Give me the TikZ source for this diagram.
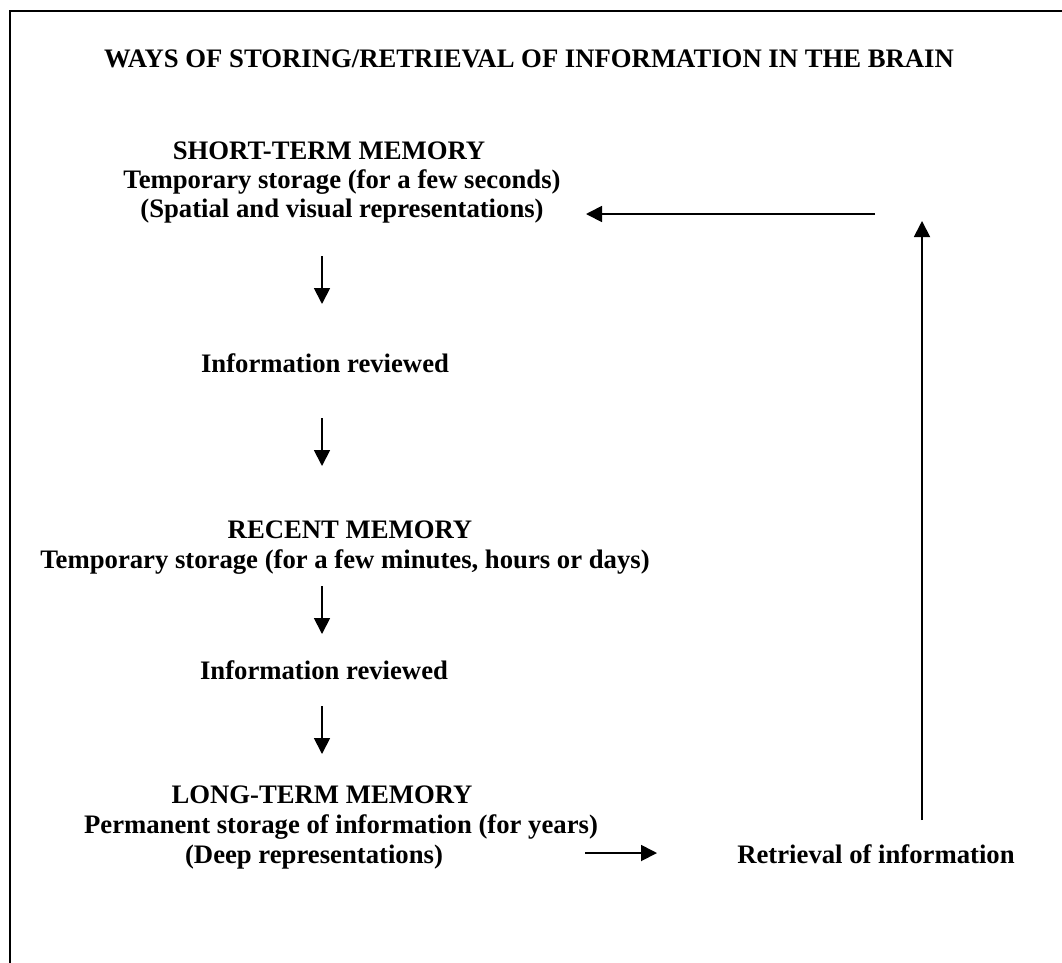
\documentclass[tikz,border=0pt]{standalone}
\usepackage{fontspec}
\setmainfont{Liberation Serif}
\usetikzlibrary{arrows.meta}
\tikzset{
  txt/.style={anchor=base, inner sep=0pt, font=\fontsize{26.7}{28}\selectfont\bfseries},
  arr/.style={line width=1.8pt, -{Triangle[length=16pt,width=16pt]}},
}
\begin{document}
\begin{tikzpicture}[x=1pt,y=1pt]
\useasboundingbox (0,0) rectangle (1062,-962);
\begin{scope}
\clip (0,0) rectangle (1062,-962);
\draw[line width=2pt] (9.5,-975) -- (9.5,-11) -- (1075,-11);
\end{scope}
% texts
\node[txt] (title) at (529,-67) {WAYS OF STORING/RETRIEVAL OF INFORMATION IN THE BRAIN};
\node[txt] (stm1) at (329,-159) {SHORT-TERM MEMORY};
\node[txt] (stm2) at (342,-188) {Temporary storage (for a few seconds)};
\node[txt] (stm3) at (342,-217) {(Spatial and visual representations)};
\node[txt] (ir1) at (325,-372) {Information reviewed};
\node[txt] (rm1) at (350,-538) {RECENT MEMORY};
\node[txt] (rm2) at (345,-568) {Temporary storage (for a few minutes, hours or days)};
\node[txt] (ir2) at (324,-679) {Information reviewed};
\node[txt] (ltm1) at (322,-803) {LONG-TERM MEMORY};
\node[txt] (ltm2) at (341,-833) {Permanent storage of information (for years)};
\node[txt] (ltm3) at (314,-863) {(Deep representations)};
\node[txt] (ret) at (876,-863) {Retrieval of information};
% arrow ends
\coordinate (a1s) at (322,-256); \coordinate (a1e) at (322,-304);
\coordinate (a2s) at (322,-418); \coordinate (a2e) at (322,-466);
\coordinate (a3s) at (322,-586); \coordinate (a3e) at (322,-634);
\coordinate (a4s) at (322,-706); \coordinate (a4e) at (322,-754);
\coordinate (ls) at (875,-214); \coordinate (le) at (586,-214);
\coordinate (us) at (922,-820); \coordinate (ue) at (922,-221);
\coordinate (rs) at (585,-853); \coordinate (re) at (657,-853);
\draw[arr] (a1s) -- (a1e);
\draw[arr] (a2s) -- (a2e);
\draw[arr] (a3s) -- (a3e);
\draw[arr] (a4s) -- (a4e);
\draw[arr] (ls) -- (le);
\draw[arr] (us) -- (ue);
\draw[arr] (rs) -- (re);
\end{tikzpicture}
\end{document}
